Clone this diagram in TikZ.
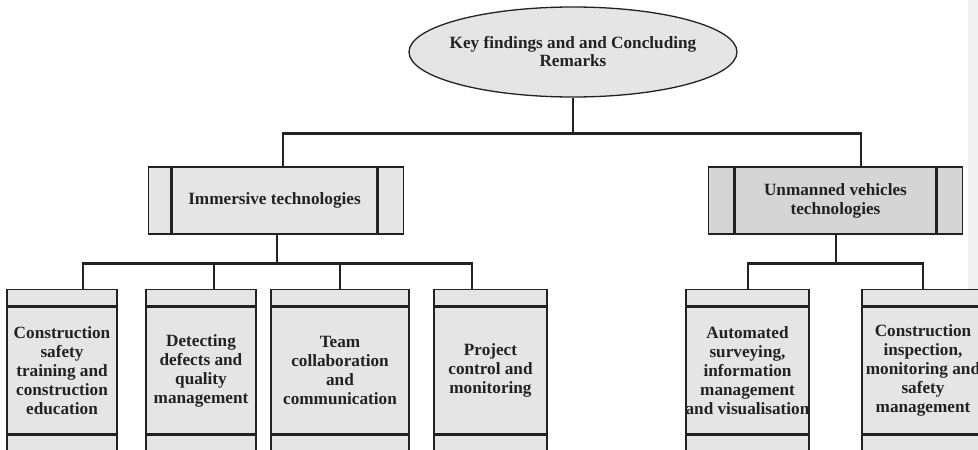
\documentclass[tikz,border=0pt]{standalone}
\usepackage{fontspec}
\setmainfont{Liberation Serif}
\usepackage{tikz}
\usetikzlibrary{shapes.geometric}

\definecolor{linegray}{HTML}{222222}
\definecolor{boxgray}{HTML}{E5E5E5}
\definecolor{darkbox}{HTML}{D5D5D5}
\definecolor{stripgray}{HTML}{F1F1F1}
\newcommand{\boxfont}{\fontsize{17.2}{19}\selectfont\bfseries}

\tikzset{
    conn/.style={draw=linegray, line width=2.4pt},
    midbox/.style={draw=linegray, line width=1.2pt, fill=boxgray, text=linegray, inner sep=0pt, align=center, font=\boxfont},
    band/.style={draw=linegray, line width=1.2pt, fill=boxgray, inner sep=0pt}
}

\begin{document}
\begin{tikzpicture}[x=1pt,y=-1pt]
        \clip (0,0) rectangle (978,450);
        \fill[white] (0,0) rectangle (978,450);
        \fill[stripgray] (968,0) rectangle (978,450);

        % top
        \node[ellipse, draw=linegray, line width=1.3pt, fill=boxgray, minimum width=328pt, minimum height=90pt, inner sep=0pt] (key) at (573,52) {};
        \node[align=center, text=linegray, font=\fontsize{17.2}{18}\selectfont\bfseries] (keytext) at (key) {Key findings and and Concluding\\Remarks};

        % second level
        \node[midbox, minimum width=205pt, minimum height=67pt] (imm) at (274.5,200.5) {Immersive technologies};
        \node[band, minimum width=22pt, minimum height=67pt, anchor=east] (immleft) at (imm.west) {};
        \node[band, minimum width=25pt, minimum height=67pt, anchor=west] (immright) at (imm.east) {};

        \node[midbox, fill=darkbox, minimum width=201pt, minimum height=67pt] (uvt) at (835.5,200.5) {Unmanned vehicles\\technologies};
        \node[band, fill=darkbox, minimum width=25pt, minimum height=67pt, anchor=east] (uvtleft) at (uvt.west) {};
        \node[band, fill=darkbox, minimum width=25pt, minimum height=67pt, anchor=west] (uvtright) at (uvt.east) {};

        % third level
        \foreach \c/\x/\w/\txt in {safety/62/110/{Construction\\safety\\training and\\construction\\education},
                                   defects/201/110/{Detecting\\defects and\\quality\\management},
                                   team/340/138/{Team\\collaboration\\and\\communication},
                                   control/490.5/113/{Project\\control and\\monitoring},
                                   survey/747.5/123/{Automated\\surveying,\\information\\management\\\makebox[120pt]{and visualisation}},
                                   inspect/923/122/{Construction\\inspection,\\monitoring and\\safety\\management}}
        {
            \node[midbox, minimum width=\w pt, minimum height=127pt] (\c) at (\x,370.5) {\txt};
            \node[band, minimum width=\w pt, minimum height=16pt, anchor=south] (\c-top) at (\c.north) {};
            \node[band, minimum width=\w pt, minimum height=24pt, anchor=north] (\c-bot) at (\c.south) {};
        }

        \draw[conn] (key.south) -- ++(0,36) coordinate (keyfork);
        \draw[conn] (keyfork) -| ([xshift=8.5pt]immleft.north -| imm.north);
        \draw[conn] (keyfork) -| ([xshift=25.5pt]uvt.north);

        \draw[conn] ([xshift=2.5pt]imm.south) -- ++(0,29) coordinate (immfork);
        \foreach \c/\dx in {safety/21,defects/13,team/0,control/-18.5}
            \draw[conn] (immfork) -| ([xshift=\dx pt]\c-top.north);

        \draw[conn] ([xshift=0.5pt]uvt.south) -- ++(0,29) coordinate (uvtfork);
        \foreach \c/\dx in {survey/0.5,inspect/0}
            \draw[conn] (uvtfork) -| ([xshift=\dx pt]\c-top.north);
    \end{tikzpicture}
\end{document}
